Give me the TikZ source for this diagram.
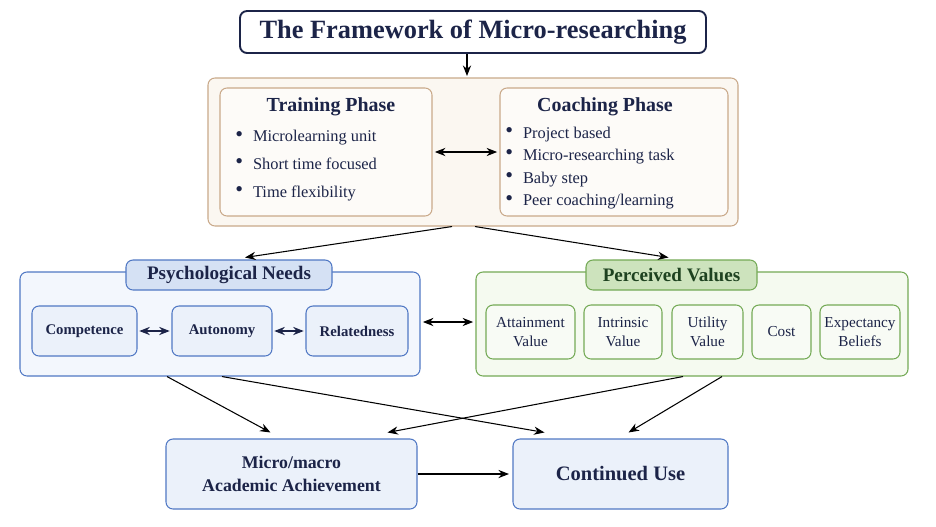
\documentclass[tikz,border=0pt]{standalone}
\usepackage{fontspec}
\setmainfont{Liberation Serif}
\usetikzlibrary{arrows.meta,calc}

\definecolor{navy}{HTML}{1C2448}
\definecolor{tanline}{HTML}{C9A98A}
\definecolor{tanfill}{HTML}{FBF7F1}
\definecolor{tanin}{HTML}{FDFBF8}
\definecolor{blueline}{HTML}{5078C4}
\definecolor{bluefill}{HTML}{F3F7FD}
\definecolor{bluetab}{HTML}{D5E1F4}
\definecolor{bluein}{HTML}{EBF1FA}
\definecolor{greenline}{HTML}{74AA56}
\definecolor{greenfill}{HTML}{F5FAF0}
\definecolor{greentab}{HTML}{CDE3BD}
\definecolor{greenin}{HTML}{F8FBF5}
\definecolor{greentext}{HTML}{1E4220}

\newcommand{\itemdot}{\raisebox{0.1ex}{\scalebox{1.35}{\textbullet}}\hspace{0.6em}}

\begin{document}
\begin{tikzpicture}[x=0.03cm,y=-0.03cm,>={Stealth[length=9pt,width=7pt]},line width=0.9pt,
    box/.style={rectangle,rounded corners=6pt,draw,inner sep=0pt},
    phase box/.style={box,draw=tanline,fill=tanin,minimum height=3.84cm},
    need box/.style={box,draw=blueline,fill=bluein,minimum height=1.5cm,
                     font=\fontsize{12.6}{14}\selectfont\bfseries,text=navy},
    value box/.style={box,draw=greenline,fill=greenin,minimum height=1.62cm,
                      align=center,font=\fontsize{13}{16}\selectfont,text=navy},
    tab/.style={box,minimum height=0.9cm,font=\fontsize{16.3}{19}\selectfont\bfseries},
    result box/.style={box,draw=blueline,fill=bluein,minimum height=2.1cm,
                       align=center,text=navy},
    bullets/.style={anchor=west,align=left,text=navy,font=\fontsize{14}{15}\selectfont}]

  \fill[white] (0,0) rectangle (936,526);

  % title
  \node[box,draw=navy,line width=1.6pt,fill=white,minimum width=13.98cm,
        minimum height=1.26cm,text=navy,font=\fontsize{22.5}{26}\selectfont\bfseries]
        (title) at (473,32) {The Framework of Micro-researching};

  % training / coaching
  \node[box,draw=tanline,fill=tanfill,minimum width=15.9cm,minimum height=4.44cm]
        (phases) at (473,152) {};
  \node[phase box,minimum width=6.36cm] (training) at (326,152) {};
  \node[phase box,minimum width=6.84cm] (coaching) at (614,152) {};
  \node[text=navy,font=\fontsize{17}{20}\selectfont\bfseries] (traintitle) at (331,107) {Training Phase};
  \node[text=navy,font=\fontsize{17}{20}\selectfont\bfseries] (coachtitle) at (605,107) {Coaching Phase};
  \node[bullets] (trainlist) at (231,165.5)
        {\itemdot Microlearning unit\\[8.6pt]
         \itemdot Short time focused\\[8.6pt]
         \itemdot Time flexibility};
  \node[bullets] (coachlist) at (501,168)
        {\itemdot Project based\\[4.3pt]
         \itemdot Micro-researching task\\[4.3pt]
         \itemdot Baby step\\[4.3pt]
         \itemdot Peer coaching/learning};

  % psychological needs
  \node[box,draw=blueline,fill=bluefill,minimum width=12cm,minimum height=3.12cm]
        (needs) at (220,324) {};
  \node[tab,draw=blueline,fill=bluetab,minimum width=6.18cm,text=navy]
        (needstab) at (229,275) {Psychological Needs};
  \node[need box,minimum width=3.15cm] (comp) at (84.5,331) {Competence};
  \node[need box,minimum width=3cm] (auto) at (222,331) {Autonomy};
  \node[need box,minimum width=3.06cm] (rel) at (357,331) {Relatedness};

  % perceived values
  \node[box,draw=greenline,fill=greenfill,minimum width=12.96cm,minimum height=3.12cm]
        (values) at (692,324) {};
  \node[tab,draw=greenline,fill=greentab,minimum width=5.13cm,text=greentext]
        (valuestab) at (671.5,275) {Perceived Values};
  \node[value box,minimum width=2.67cm] (attain) at (530.5,332) {Attainment\\Value};
  \node[value box,minimum width=2.34cm] (intrin) at (623,332) {Intrinsic\\Value};
  \node[value box,minimum width=2.13cm] (util) at (707.5,332) {Utility\\Value};
  \node[value box,minimum width=1.77cm] (cost) at (781.5,332) {Cost};
  \node[value box,minimum width=2.4cm] (expect) at (860,332) {Expectancy\\Beliefs};

  % outcomes
  \node[result box,minimum width=7.53cm,font=\fontsize{15.2}{19}\selectfont\bfseries]
        (achieve) at (291.5,474) {Micro/macro\\Academic Achievement};
  \node[result box,minimum width=6.45cm,font=\fontsize{17.5}{20}\selectfont\bfseries]
        (contuse) at (620.5,474) {Continued Use};

  \path[->]
    (title.south -| 467,0) edge (467,76)
    ($(phases.south)+(-21,0)$) edge ($(needstab.north)+(16,-2)$)
    ($(phases.south)+(2,0)$) edge ($(valuestab.north)+(-3,-2)$)
    ($(needs.south)+(-53,0)$) edge ($(achieve.north)+(-21,-6)$)
    ($(needs.south)+(2,0)$) edge ($(contuse.north)+(-76,-6)$)
    ($(values.south)+(-9,0)$) edge ($(achieve.north)+(96,-6)$)
    ($(values.south)+(30,0)$) edge ($(contuse.north)+(8,-6)$)
    (achieve) edge[shorten >=3pt] (contuse);

  \path[<->,shorten >=2pt,shorten <=2pt]
    (training) edge (coaching)
    (needs.east |- 0,322) edge (values.west |- 0,322);

  \path[<->,draw=navy,line width=1.2pt,shorten >=1.5pt,shorten <=1.5pt]
    (comp) edge[navy] (auto)
    (auto) edge[navy] (rel);
\end{tikzpicture}
\end{document}
